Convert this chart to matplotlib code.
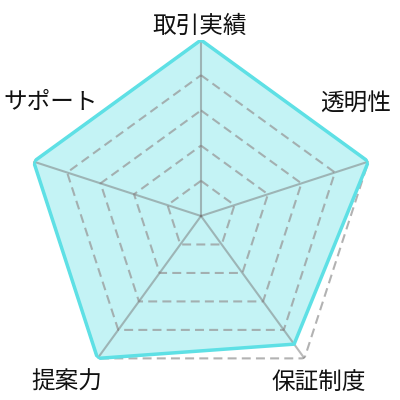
import numpy as np
import matplotlib
matplotlib.use("Agg")
import matplotlib.pyplot as plt

plt.rcParams["font.family"] = ["Noto Sans CJK JP", "DejaVu Sans"]

# データ
categories = ["取引実績", "透明性", "保証制度", "提案力", "サポート"]
scores = [5, 5, 4.5, 5, 5]
levels = [1, 2, 3, 4, 5]

# ラベル位置 (figure 座標)
label_pos = {
    "取引実績": (0.5, 0.935),
    "透明性": (0.89, 0.742),
    "保証制度": (0.7975, 0.045),
    "提案力": (0.1675, 0.045),
    "サポート": (0.127, 0.745),
}

fig = plt.figure(figsize=(4, 4), dpi=100)
ax = fig.add_axes([0.0625, 0.02, 0.88, 0.88], projection="polar")
ax.set_theta_offset(np.pi / 2)
ax.set_theta_direction(-1)
ax.set_ylim(0, 5)
ax.grid(False)
ax.spines["polar"].set_visible(False)
ax.set_xticks([])
ax.set_yticks([])

angles = np.linspace(0, 2 * np.pi, len(categories), endpoint=False)
closed = np.append(angles, angles[0])

# データ領域
vals = np.append(scores, scores[0])
ax.fill(closed, vals, color="#c4f3f5", zorder=1)
ax.plot(closed, vals, color="#5ee0e5", lw=2.5, zorder=4)

# グリッド (破線の五角形)
for lv in levels:
    ax.plot(closed, [lv] * len(closed), color="#999999", alpha=0.75,
            lw=1.5, ls=(0, (4.3, 2.5)), zorder=2)

# 軸線
for a in angles:
    ax.plot([a, a], [0, 5], color="#777777", alpha=0.5, lw=1.5, zorder=3)

for name in categories:
    x, y = label_pos[name]
    fig.text(x, y, name, ha="center", va="center", fontsize=17, color="#111111")

plt.savefig("out.png", dpi=100)
